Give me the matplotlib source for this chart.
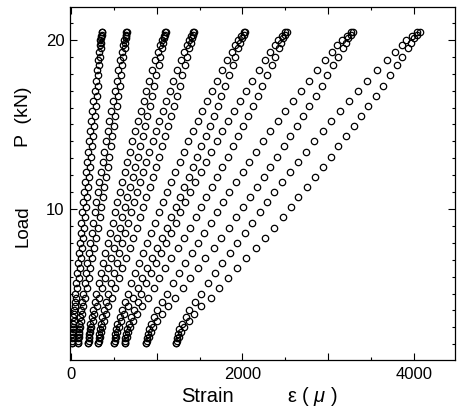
import matplotlib
matplotlib.use("Agg")
import matplotlib.pyplot as plt
from matplotlib.ticker import MultipleLocator, FixedLocator, FixedFormatter

plt.rcParams['font.family'] = ['Liberation Sans', 'DejaVu Sans']
plt.rcParams['mathtext.fontset'] = 'custom'
plt.rcParams['mathtext.it'] = 'Liberation Sans:italic'
plt.rcParams['mathtext.rm'] = 'Liberation Sans'

# Load levels (kN) of the two branches of every loop
load_a = [2.1, 2.35, 2.6, 2.9, 3.2, 3.6, 4.0, 4.5, 5.0, 5.6, 6.2, 6.8, 7.4, 8.0, 8.6, 9.2,
          9.8, 10.4, 11.0, 11.6, 12.2, 12.8, 13.4, 14.0, 14.6, 15.2, 15.8, 16.4, 17.0,
          17.6, 18.2, 18.8, 19.3, 19.7, 20.0, 20.25, 20.45]
load_b = [2.1, 2.2, 2.45, 2.75, 3.05, 3.4, 3.8, 4.25, 4.75, 5.3, 5.9, 6.5, 7.1, 7.7, 8.3,
          8.9, 9.5, 10.1, 10.7, 11.3, 11.9, 12.5, 13.1, 13.7, 14.3, 14.9, 15.5, 16.1, 16.7,
          17.3, 17.9, 18.5, 19.0, 19.5, 19.85, 20.1, 20.3, 20.5]

# Strain (micro) of each loop, branch a (inner) and branch b (outer)
c1_a = [13, 14, 16, 18, 21, 27, 32, 41, 49, 59, 69, 80, 90, 101, 112, 122, 133, 143, 154,
        165, 176, 187, 199, 211, 223, 235, 248, 261, 274, 287, 301, 315, 326, 336, 343, 352, 359]
c1_b = [13, 14, 18, 21, 25, 32, 40, 50, 63, 75, 88, 101, 114, 127, 140, 153, 166, 177, 188,
        200, 212, 223, 234, 245, 257, 268, 278, 289, 299, 309, 319, 329, 336, 345, 350, 354, 358, 362]
c2_a = [83, 86, 89, 92, 97, 107, 115, 129, 142, 159, 175, 192, 209, 227, 245, 262, 279, 296,
        313, 332, 350, 368, 387, 406, 426, 446, 467, 488, 509, 531, 553, 576, 595, 610, 622, 636, 647]
c2_b = [84, 86, 91, 97, 104, 115, 127, 144, 165, 185, 205, 226, 248, 270, 292, 313, 333, 352,
        370, 389, 407, 426, 445, 463, 481, 499, 516, 533, 550, 567, 583, 599, 611, 624, 633, 640, 647, 653]
c3_a = [202, 206, 211, 216, 225, 239, 253, 274, 295, 322, 348, 375, 402, 431, 459, 486, 513,
        540, 568, 597, 626, 655, 685, 716, 748, 779, 812, 846, 879, 914, 949, 985, 1015, 1040,
        1058, 1081, 1099]
c3_b = [203, 206, 215, 224, 235, 252, 272, 298, 332, 364, 396, 430, 463, 499, 533, 567, 599,
        629, 658, 688, 718, 748, 777, 806, 835, 863, 890, 917, 945, 971, 996, 1022, 1042, 1063,
        1076, 1088, 1098, 1108]
c4_a = [317, 323, 328, 335, 345, 363, 380, 407, 433, 465, 498, 531, 565, 600, 634, 668, 701,
        735, 769, 804, 840, 876, 913, 951, 990, 1030, 1070, 1111, 1153, 1195, 1239, 1284, 1321,
        1351, 1373, 1401, 1424]
c4_b = [318, 323, 333, 344, 358, 379, 404, 436, 477, 518, 557, 598, 640, 684, 726, 768, 807,
        844, 880, 916, 953, 990, 1026, 1062, 1098, 1133, 1166, 1200, 1233, 1266, 1297, 1329,
        1353, 1379, 1396, 1410, 1423, 1435]
c5_a = [503, 511, 518, 528, 541, 566, 589, 625, 661, 705, 749, 795, 841, 889, 936, 982, 1028,
        1074, 1120, 1169, 1218, 1267, 1317, 1369, 1423, 1476, 1531, 1588, 1644, 1703, 1762,
        1823, 1874, 1915, 1946, 1984, 2015]
c5_b = [505, 511, 524, 540, 558, 587, 621, 665, 722, 777, 830, 887, 944, 1003, 1061, 1118,
        1172, 1222, 1271, 1322, 1372, 1423, 1472, 1520, 1569, 1617, 1663, 1709, 1755, 1799,
        1842, 1885, 1918, 1953, 1976, 1996, 2013, 2030]
c6_a = [624, 633, 643, 654, 671, 702, 730, 776, 820, 875, 930, 987, 1044, 1103, 1162, 1219,
        1276, 1333, 1390, 1450, 1511, 1572, 1635, 1699, 1766, 1832, 1901, 1971, 2041, 2113,
        2188, 2264, 2326, 2378, 2416, 2463, 2501]
c6_b = [626, 633, 650, 669, 692, 728, 770, 825, 896, 964, 1030, 1101, 1171, 1245, 1317, 1388,
        1454, 1517, 1578, 1640, 1703, 1766, 1827, 1887, 1948, 2007, 2064, 2121, 2178, 2233,
        2286, 2340, 2381, 2425, 2454, 2478, 2499, 2520]
c7_a = [870, 882, 894, 909, 931, 969, 1006, 1064, 1120, 1190, 1260, 1333, 1406, 1481, 1556,
        1629, 1702, 1774, 1847, 1925, 2002, 2080, 2160, 2242, 2327, 2412, 2499, 2589, 2679,
        2771, 2866, 2963, 3043, 3108, 3157, 3217, 3266]
c7_b = [872, 882, 904, 928, 957, 1003, 1057, 1127, 1217, 1304, 1389, 1479, 1568, 1663, 1755,
        1845, 1930, 2010, 2087, 2167, 2247, 2327, 2405, 2482, 2560, 2635, 2708, 2781, 2854,
        2924, 2992, 3060, 3113, 3169, 3205, 3237, 3263, 3290]
c8_a = [1220, 1234, 1248, 1265, 1291, 1337, 1380, 1448, 1514, 1597, 1680, 1765, 1851, 1939,
        2028, 2114, 2199, 2285, 2371, 2462, 2553, 2645, 2739, 2836, 2936, 3036, 3139, 3245,
        3350, 3459, 3570, 3684, 3779, 3856, 3913, 3984, 4041]
c8_b = [1223, 1234, 1260, 1288, 1323, 1377, 1440, 1522, 1628, 1731, 1831, 1937, 2042, 2154,
        2262, 2368, 2468, 2562, 2653, 2748, 2842, 2936, 3028, 3119, 3210, 3299, 3385, 3470,
        3556, 3639, 3719, 3799, 3862, 3927, 3970, 4007, 4039, 4070]

cycles_a = [c1_a, c2_a, c3_a, c4_a, c5_a, c6_a, c7_a, c8_a]
cycles_b = [c1_b, c2_b, c3_b, c4_b, c5_b, c6_b, c7_b, c8_b]

x_ticks = [0, 1000, 2000, 3000, 4000]
x_ticklabels = ['0', '', '2000', '', '4000']
y_ticks = [10, 20]
y_ticklabels = ['10', '20']

fig = plt.figure(figsize=(4.57, 4.19), dpi=100)
ax = fig.add_axes([70 / 457, 59 / 419, 385 / 457, 353 / 419])

mk = dict(linestyle='none', marker='o', markersize=4.6, markerfacecolor='none',
          markeredgecolor='black', markeredgewidth=0.9)
for sa, sb in zip(cycles_a, cycles_b):
    ax.plot(sa, load_a, **mk)
    ax.plot(sb, load_b, **mk)

ax.set_xlim(-12, 4480)
ax.set_ylim(1.07, 21.95)

ax.xaxis.set_major_locator(FixedLocator(x_ticks))
ax.xaxis.set_major_formatter(FixedFormatter(x_ticklabels))
ax.xaxis.set_minor_locator(MultipleLocator(500))
ax.yaxis.set_major_locator(FixedLocator(y_ticks))
ax.yaxis.set_major_formatter(FixedFormatter(y_ticklabels))
ax.yaxis.set_minor_locator(MultipleLocator(1))

ax.tick_params(which='both', direction='in', top=True, right=True, width=0.8)
ax.tick_params(which='major', length=5)
ax.tick_params(which='minor', length=2.5)
ax.tick_params(axis='x', labelsize=12, pad=5)
ax.tick_params(axis='y', labelsize=12, pad=4)
for s in ax.spines.values():
    s.set_linewidth(0.9)

fig.text(207 / 457, 1 - 396 / 419, 'Strain', ha='center', va='center', fontsize=14.5)
fig.text(312 / 457, 1 - 396 / 419, r'ε ( $\mu$ )', ha='center', va='center', fontsize=14.5)
fig.text(23 / 457, 1 - 226 / 419, 'Load', ha='center', va='center', rotation=90, fontsize=13.5)
fig.text(23 / 457, 1 - 117 / 419, 'P  (kN)', ha='center', va='center', rotation=90, fontsize=14)

fig.savefig('out.png', dpi=100)
